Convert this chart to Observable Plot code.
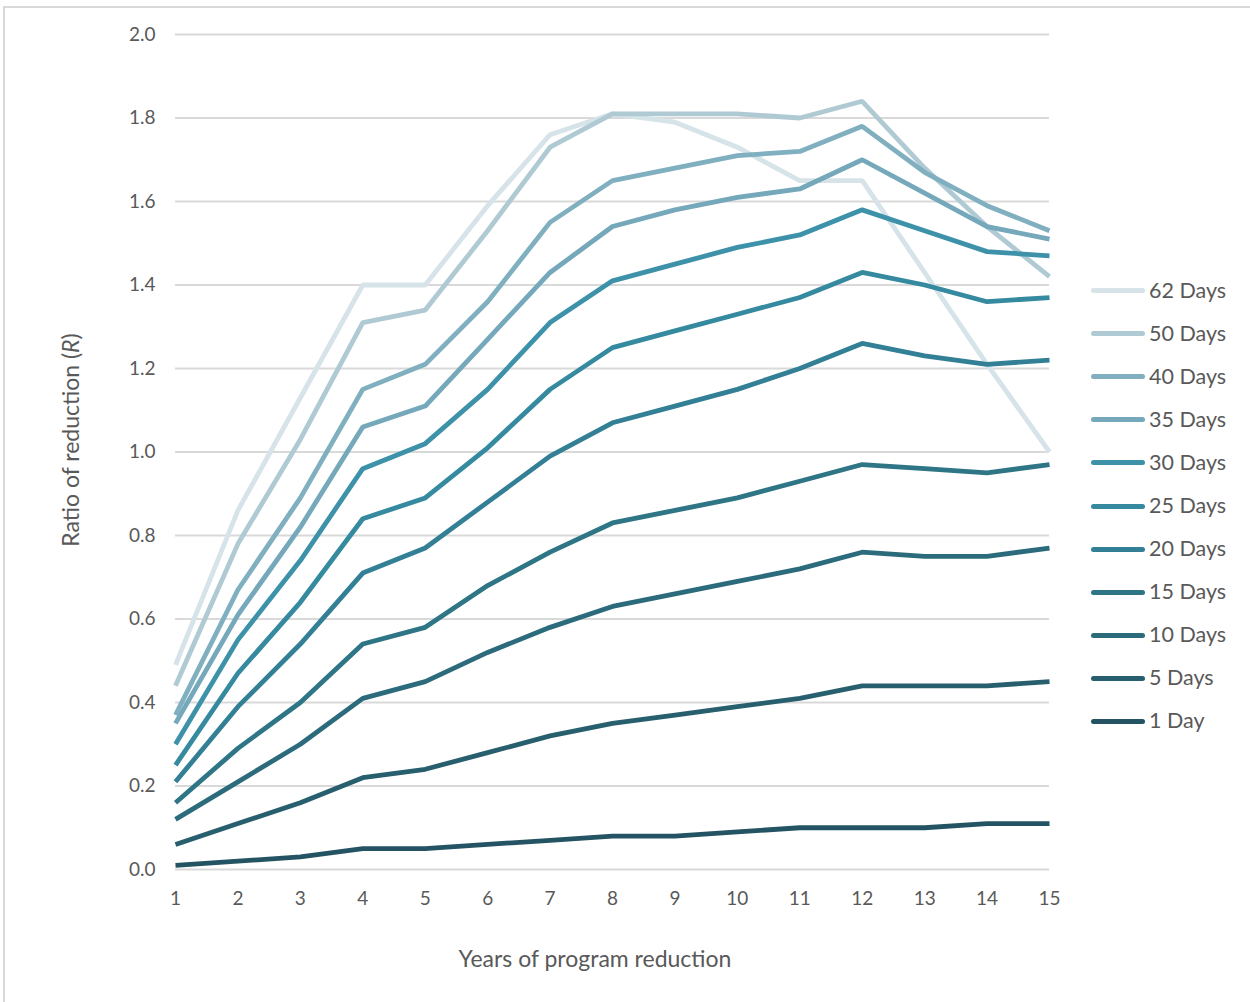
<!DOCTYPE html>
<html>
<head>
<meta charset="utf-8">
<script src="https://cdn.jsdelivr.net/npm/d3@7"></script>
<script src="https://cdn.jsdelivr.net/npm/@observablehq/plot@0.6"></script>
<style>
  html, body { margin: 0; padding: 0; background: #fff; }
  body { width: 1250px; height: 1002px; position: relative; overflow: hidden; font-family: Lato, "Open Sans", sans-serif; color: #595959; }
  #frame { position: absolute; left: 3px; top: 6px; width: 1260px; height: 1010px; border-top: 2px solid #d9d9d9; border-left: 2px solid #d9d9d9; box-sizing: border-box; }
  #chart { position: absolute; left: 0; top: 0; }
  #ytitle { position: absolute; left: 70px; top: 440px; transform: translate(-50%, -50%) rotate(-90deg); font-size: 23px; white-space: nowrap; }
  #xtitle { position: absolute; left: 595px; top: 958px; transform: translate(-50%, -50%); font-size: 23px; white-space: nowrap; }
  #legend { position: absolute; left: 1091px; top: 268px; }
  .item { height: 43.1px; display: flex; align-items: center; font-size: 21.5px; color: #595959; }
  .swatch { width: 54px; height: 5px; border-radius: 3px; margin-right: 4px; margin-top: 2px; }
</style>
</head>
<body>
<div id="frame"></div>
<div id="chart"></div>
<div id="ytitle">Ratio of reduction (<i>R</i>)</div>
<div id="xtitle">Years of program reduction</div>
<div id="legend"></div>
<script>
const years = [1,2,3,4,5,6,7,8,9,10,11,12,13,14,15];
const seriesNames = ["62 Days","50 Days","40 Days","35 Days","30 Days","25 Days","20 Days","15 Days","10 Days","5 Days","1 Day"];
const seriesColors = ["#d6e3e8","#b0cad4","#80b0c0","#74a8ba","#3d92aa","#368aa0","#338096","#2e7586","#2b6b7b","#285f6e","#245463"];
const d62 = [0.49,0.86,1.13,1.40,1.40,1.59,1.76,1.81,1.79,1.73,1.65,1.65,1.43,1.21,1.00];
const d50 = [0.44,0.78,1.03,1.31,1.34,1.53,1.73,1.81,1.81,1.81,1.80,1.84,1.68,1.54,1.42];
const d40 = [0.37,0.67,0.89,1.15,1.21,1.36,1.55,1.65,1.68,1.71,1.72,1.78,1.67,1.59,1.53];
const d35 = [0.35,0.61,0.82,1.06,1.11,1.27,1.43,1.54,1.58,1.61,1.63,1.70,1.62,1.54,1.51];
const d30 = [0.30,0.55,0.74,0.96,1.02,1.15,1.31,1.41,1.45,1.49,1.52,1.58,1.53,1.48,1.47];
const d25 = [0.25,0.47,0.64,0.84,0.89,1.01,1.15,1.25,1.29,1.33,1.37,1.43,1.40,1.36,1.37];
const d20 = [0.21,0.39,0.54,0.71,0.77,0.88,0.99,1.07,1.11,1.15,1.20,1.26,1.23,1.21,1.22];
const d15 = [0.16,0.29,0.40,0.54,0.58,0.68,0.76,0.83,0.86,0.89,0.93,0.97,0.96,0.95,0.97];
const d10 = [0.12,0.21,0.30,0.41,0.45,0.52,0.58,0.63,0.66,0.69,0.72,0.76,0.75,0.75,0.77];
const d5  = [0.06,0.11,0.16,0.22,0.24,0.28,0.32,0.35,0.37,0.39,0.41,0.44,0.44,0.44,0.45];
const d1  = [0.01,0.02,0.03,0.05,0.05,0.06,0.07,0.08,0.08,0.09,0.10,0.10,0.10,0.11,0.11];
const yTicks = [0,0.2,0.4,0.6,0.8,1.0,1.2,1.4,1.6,1.8,2.0];

const seriesValues = [d62,d50,d40,d35,d30,d25,d20,d15,d10,d5,d1];
const rows = [];
seriesNames.forEach((name, i) => {
  years.forEach((yr, j) => rows.push({series: name, year: yr, value: seriesValues[i][j]}));
});

const plot = Plot.plot({
  width: 1250,
  height: 1002,
  marginLeft: 175,
  marginRight: 201,
  marginTop: 34,
  marginBottom: 133,
  style: {fontFamily: "Lato, 'Open Sans', sans-serif", fontSize: "19px", color: "#595959", background: "transparent"},
  x: {domain: [1, 15], ticks: years, tickFormat: d => String(d), tickSize: 0, tickPadding: 22, label: null},
  y: {domain: [0, 2], ticks: yTicks, tickFormat: d3.format(".1f"), tickSize: 0, tickPadding: 20, label: null},
  color: {domain: seriesNames, range: seriesColors},
  marks: [
    Plot.gridY(yTicks, {stroke: "#d9d9d9", strokeOpacity: 1, strokeWidth: 2}),
    Plot.axisY({ticks: yTicks, tickFormat: d3.format(".1f"), tickSize: 0, tickPadding: 20, label: null, fontSize: 19}),
    Plot.axisX({ticks: years, tickFormat: d => String(d), tickSize: 0, tickPadding: 22, label: null, fontSize: 19}),
    Plot.line(rows, {x: "year", y: "value", z: "series", stroke: "series", strokeWidth: 4.8, strokeLinejoin: "miter", strokeLinecap: "butt"})
  ]
});
document.getElementById("chart").appendChild(plot);

const legend = document.getElementById("legend");
seriesNames.forEach((name, i) => {
  const item = document.createElement("div");
  item.className = "item";
  const sw = document.createElement("div");
  sw.className = "swatch";
  sw.style.background = seriesColors[i];
  const t = document.createElement("span");
  t.textContent = name;
  item.appendChild(sw);
  item.appendChild(t);
  legend.appendChild(item);
});
</script>
</body>
</html>
